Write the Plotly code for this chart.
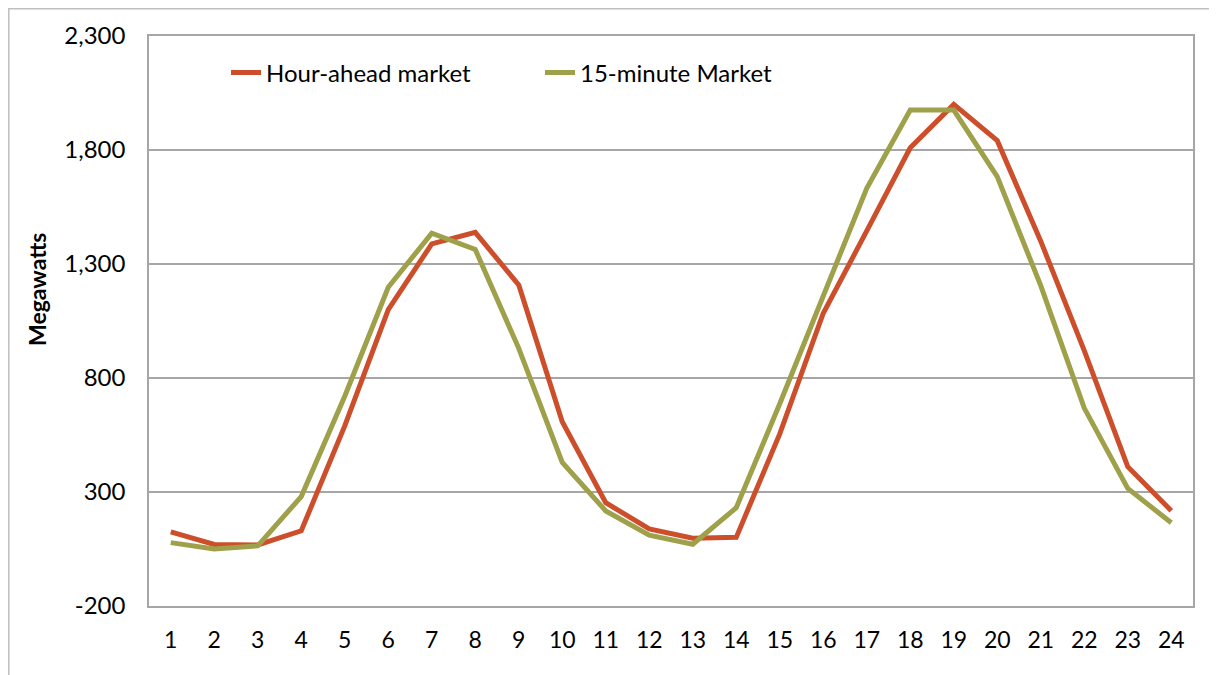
import plotly.graph_objects as go

hours = list(range(1, 25))
hour_ahead = [125, 70, 68, 130, 590, 1100, 1388, 1439, 1208, 608, 253, 138,
              97, 101, 555, 1084, 1445, 1810, 2000, 1841, 1400, 920, 411, 218]
fifteen_min = [78, 50, 64, 280, 720, 1198, 1435, 1364, 930, 430, 217, 111,
               71, 231, 687, 1165, 1632, 1975, 1975, 1683, 1205, 668, 316, 165]
y_tickvals = [-200, 300, 800, 1300, 1800, 2300]
y_ticktext = ["-200", "300", "800", "1,300", "1,800", "2,300"]
series_names = ["Hour-ahead market", "15-minute Market"]
y_title = "Megawatts"

RED = "#CD4E2B"
GREEN = "#9EA04A"
FONT = "Lato"

fig = go.Figure()
fig.add_trace(go.Scatter(x=hours, y=hour_ahead, mode="lines", name=series_names[0],
                         line=dict(color=RED, width=5)))
fig.add_trace(go.Scatter(x=hours, y=fifteen_min, mode="lines", name=series_names[1],
                         line=dict(color=GREEN, width=5)))

W, H = 1217, 675
OFF = 8  # page body margin
L, R, T, B = 149 - OFF, 24 + OFF, 36 - OFF, 69 + OFF
pw, ph = W - L - R, H - T - B
PL, PB = 149, 606  # plot area left / bottom on screen

def px_x(p):
    return (p - PL) / pw

def px_y(p):
    return (PB - p) / ph

fig.update_layout(
    width=W, height=H,
    margin=dict(l=L, r=R, t=T, b=B),
    paper_bgcolor="white", plot_bgcolor="white",
    font=dict(family=FONT, size=24, color="black"),
    showlegend=True,
    legend=dict(orientation="h", x=px_x(226), y=px_y(73), xanchor="left", yanchor="middle",
                bgcolor="rgba(0,0,0,0)", font=dict(family=FONT, size=24, color="black"),
                entrywidth=269, entrywidthmode="pixels", traceorder="normal"),
    xaxis=dict(range=[0.5, 24.5], tickmode="array", tickvals=hours,
               ticktext=[str(h) for h in hours], showgrid=False, zeroline=False,
               showline=True, linecolor="#A6A6A6", linewidth=1.5, mirror=True,
               ticks="", ticklabelstandoff=13, tickfont=dict(size=23)),
    yaxis=dict(range=[-200, 2300], tickmode="array", tickvals=y_tickvals,
               ticktext=y_ticktext, showgrid=True, gridcolor="#A6A6A6", gridwidth=1.5,
               zeroline=False, showline=True, linecolor="#A6A6A6", linewidth=1.5,
               mirror=True, ticks="", ticklabelstandoff=17, tickfont=dict(size=24)),
    annotations=[dict(text="<b>" + y_title + "</b>", xref="paper", yref="paper",
                      x=px_x(37), y=px_y(290), xanchor="center", yanchor="middle",
                      textangle=-90, showarrow=False,
                      font=dict(family=FONT, size=23, color="black"))],
    shapes=[dict(type="rect", xref="paper", yref="paper",
                 x0=px_x(8.8), x1=px_x(1230), y0=px_y(690), y1=px_y(8.8),
                 line=dict(color="#BFBFBF", width=1.5), fillcolor="rgba(0,0,0,0)",
                 layer="below")],
)

fig.write_html("out.html")
